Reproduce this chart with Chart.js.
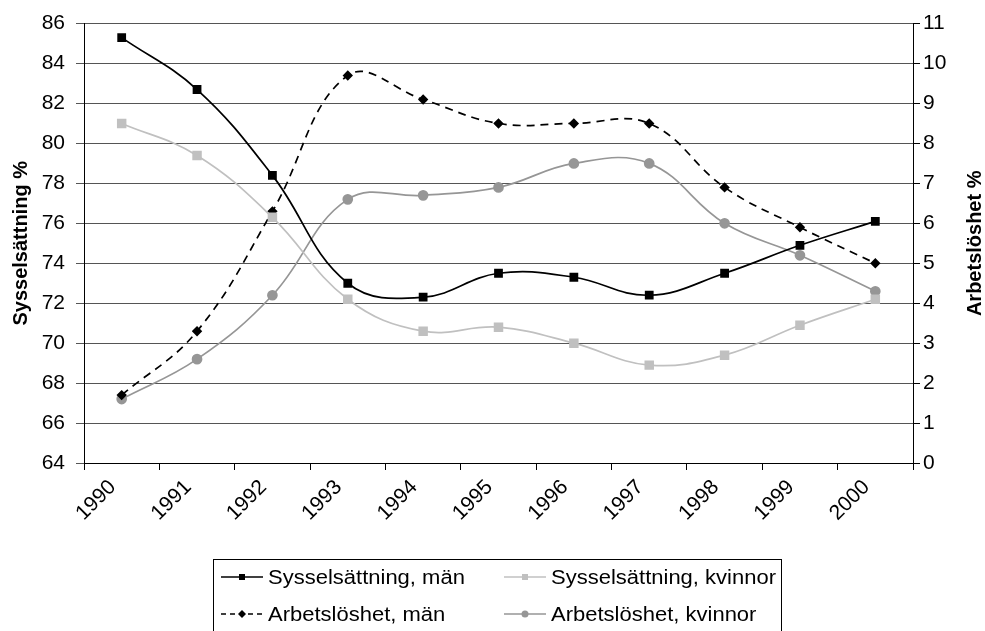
<!DOCTYPE html>
<html>
<head>
<meta charset="utf-8">
<script src="https://cdn.jsdelivr.net/npm/chart.js@4.4.1/dist/chart.umd.min.js"></script>
<style>
html, body { margin: 0; padding: 0; background: #fff; }
</style>
</head>
<body>
<canvas id="grafica" width="985" height="631"></canvas>
<script>
// data
const anios = ['1990', '1991', '1992', '1993', '1994', '1995', '1996', '1997', '1998', '1999', '2000'];
const sysselManValores = [85.3, 82.7, 78.4, 73.0, 72.3, 73.5, 73.3, 72.4, 73.5, 74.9, 76.1];
const sysselKvinnorValores = [81.0, 79.4, 76.3, 72.2, 70.6, 70.8, 70.0, 68.9, 69.4, 70.9, 72.2];
const arbetsManValores = [1.7, 3.3, 6.3, 9.7, 9.1, 8.5, 8.5, 8.5, 6.9, 5.9, 5.0];
const arbetsKvinnorValores = [1.6, 2.6, 4.2, 6.6, 6.7, 6.9, 7.5, 7.5, 6.0, 5.2, 4.3];
const etiquetas = ['Sysselsättning, män', 'Sysselsättning, kvinnor', 'Arbetslöshet, män', 'Arbetslöshet, kvinnor'];
const tituloIzq = 'Sysselsättning %';
const tituloDer = 'Arbetslöshet %';

const FUENTE = "'Liberation Sans', Arial, sans-serif";
Chart.defaults.font.family = FUENTE;
Chart.defaults.color = '#000';

function marca(ctx, tipo, x, y, r, color) {
    ctx.fillStyle = color;
    ctx.beginPath();
    if (tipo === 'rect') {
        ctx.rect(x - r, y - r, 2 * r, 2 * r);
    } else if (tipo === 'rectRot') {
        ctx.moveTo(x, y - r - 1);
        ctx.lineTo(x + r + 1, y);
        ctx.lineTo(x, y + r + 1);
        ctx.lineTo(x - r - 1, y);
        ctx.closePath();
    } else {
        ctx.arc(x, y, r + 0.5, 0, Math.PI * 2);
    }
    ctx.fill();
}

// legend with a frame, two per row, and the axis titles
const leyenda = {
    id: 'leyenda',
    afterDraw(chart) {
        const ctx = chart.ctx;
        const area = chart.chartArea;
        ctx.save();
        ctx.font = 'bold 20px ' + FUENTE;
        ctx.fillStyle = '#000';
        ctx.textAlign = 'center';
        ctx.textBaseline = 'middle';
        const medio = (area.top + area.bottom) / 2;
        ctx.save();
        ctx.translate(21, medio);
        ctx.rotate(-Math.PI / 2);
        ctx.fillText(tituloIzq, 0, 0);
        ctx.restore();
        ctx.save();
        ctx.translate(975, medio);
        ctx.rotate(-Math.PI / 2);
        ctx.fillText(tituloDer, 0, 0);
        ctx.restore();

        ctx.strokeStyle = '#000';
        ctx.lineWidth = 1;
        ctx.strokeRect(213.5, 559.5, 568, 100);
        const pos = [[221, 577], [504, 577], [221, 614], [504, 614]];
        chart.data.datasets.forEach((ds, i) => {
            const x = pos[i][0], y = pos[i][1];
            ctx.strokeStyle = ds.borderColor;
            ctx.lineWidth = 1.5;
            ctx.setLineDash(ds.borderDash ? [5, 4] : []);
            ctx.beginPath();
            ctx.moveTo(x, y);
            ctx.lineTo(x + 42, y);
            ctx.stroke();
            ctx.setLineDash([]);
            marca(ctx, ds.pointStyle, x + 21, y, 3, ds.pointBackgroundColor);
            ctx.save();
            ctx.translate(x + 47, y + 1);
            ctx.scale(1.1, 1);
            ctx.font = '20px ' + FUENTE;
            ctx.fillStyle = '#000';
            ctx.textAlign = 'left';
            ctx.fillText(ds.label, 0, 0);
            ctx.restore();
        });
        ctx.restore();
    }
};

const grafica = document.getElementById('grafica');

const myChart = new Chart(grafica, {
    type: 'line',
    data: {
        labels: anios,
        datasets: [{
            label: etiquetas[0],
            data: sysselManValores,
            yAxisID: 'y',
            borderColor: '#000000',
            pointBackgroundColor: '#000000',
            pointBorderColor: '#000000',
            pointStyle: 'rect',
            pointRadius: 5,
            borderWidth: 1.7
        }, {
            label: etiquetas[1],
            data: sysselKvinnorValores,
            yAxisID: 'y',
            borderColor: '#c0c0c0',
            pointBackgroundColor: '#c0c0c0',
            pointBorderColor: '#c0c0c0',
            pointStyle: 'rect',
            pointRadius: 5.5,
            borderWidth: 1.7
        }, {
            label: etiquetas[2],
            data: arbetsManValores,
            yAxisID: 'y1',
            borderColor: '#000000',
            borderDash: [8, 6],
            pointBackgroundColor: '#000000',
            pointBorderColor: '#000000',
            pointStyle: 'rectRot',
            pointRadius: 4,
            borderWidth: 1.7
        }, {
            label: etiquetas[3],
            data: arbetsKvinnorValores,
            yAxisID: 'y1',
            borderColor: '#969696',
            pointBackgroundColor: '#969696',
            pointBorderColor: '#969696',
            pointStyle: 'circle',
            pointRadius: 4.5,
            borderWidth: 1.7
        }]
    },
    options: {
        responsive: false,
        animation: false,
        layout: { padding: { top: 22, left: 0, right: 0, bottom: 0 } },
        plugins: {
            legend: { display: false },
            tooltip: { enabled: false }
        },
        elements: { line: { tension: 0.4 } },
        scales: {
            x: {
                type: 'category',
                offset: true,
                grid: { offset: true, drawOnChartArea: false, drawTicks: true, tickLength: 7, color: '#000' },
                border: { display: true, color: '#000', width: 1 },
                ticks: {
                    autoSkip: false,
                    minRotation: 45,
                    maxRotation: 45,
                    padding: 5,
                    labelOffset: -9,
                    font: { size: 21 }
                },
                afterFit: s => { s.height = 168; }
            },
            y: {
                position: 'left',
                min: 64,
                max: 86,
                ticks: { stepSize: 2, padding: 11, font: { size: 21 } },
                grid: { color: '#555', tickLength: 8, drawTicks: true },
                border: { display: true, color: '#000', width: 1 },
                afterFit: s => { s.width = 84; }
            },
            y1: {
                position: 'right',
                min: 0,
                max: 11,
                ticks: { stepSize: 1, padding: 3, font: { size: 21 } },
                grid: { drawOnChartArea: false, color: '#000', tickLength: 7, drawTicks: true },
                border: { display: true, color: '#000', width: 1 },
                afterFit: s => { s.width = 72; }
            }
        }
    },
    plugins: [leyenda]
});
</script>
</body>
</html>
